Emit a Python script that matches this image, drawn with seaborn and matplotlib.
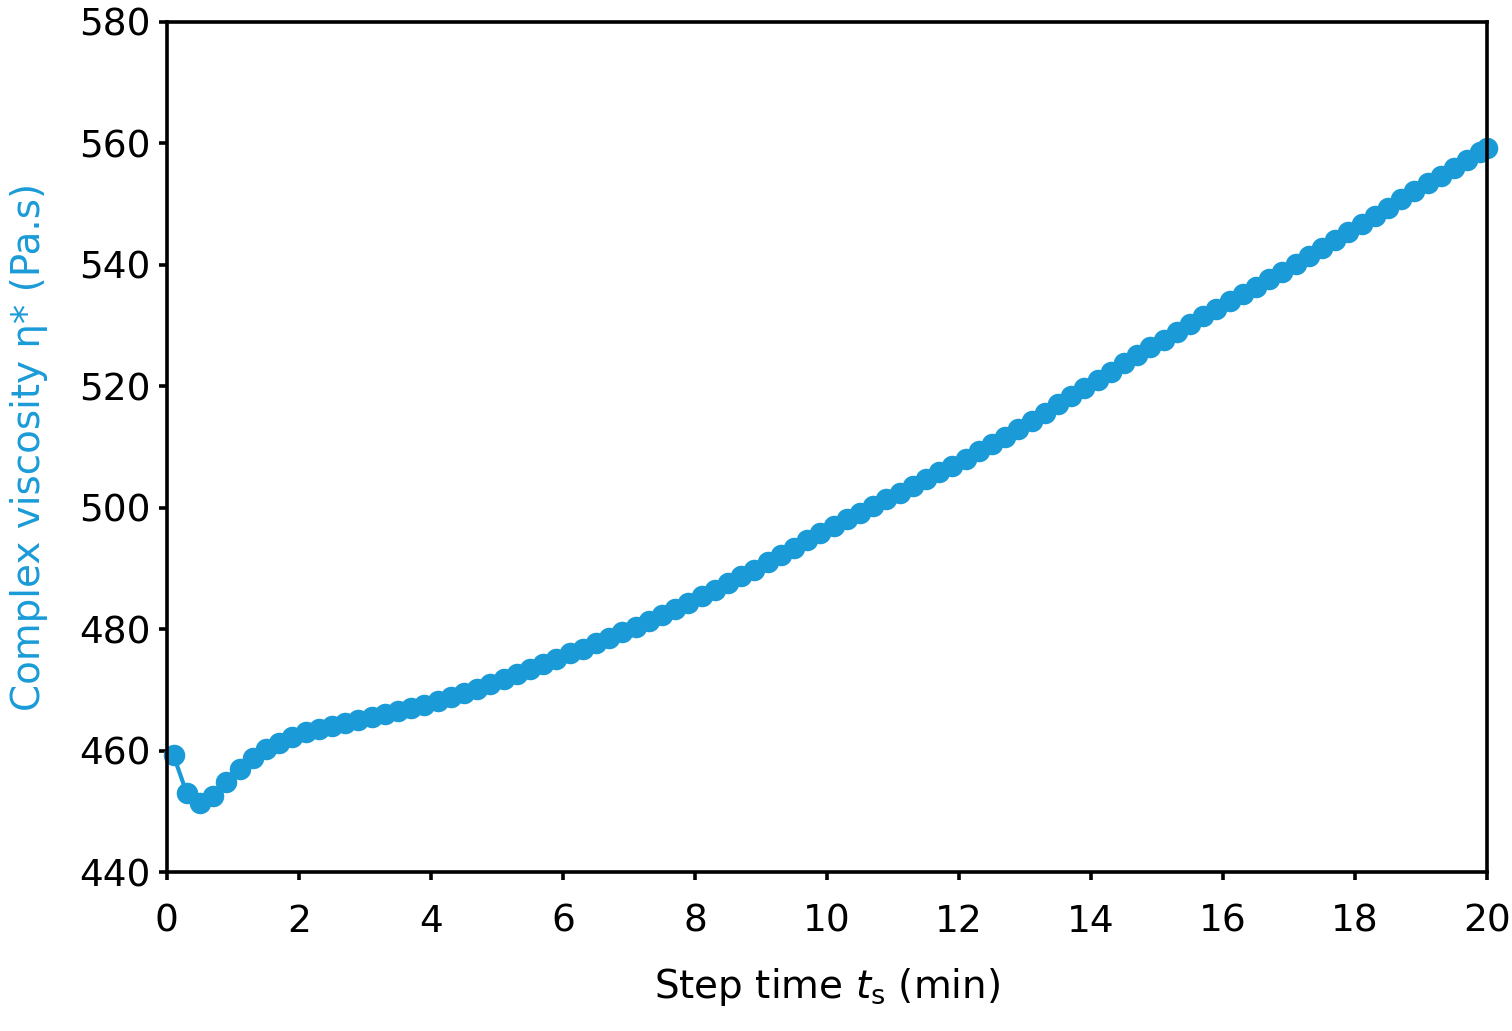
import numpy as np
import pandas as pd
import seaborn as sns
from matplotlib import pyplot as plt

# step time (min) and complex viscosity (Pa.s)
time_min = [0.1, 0.3, 0.5, 0.7, 0.9, 1.1, 1.3, 1.5, 1.7, 1.9,
            2.1, 2.3, 2.5, 2.7, 2.9, 3.1, 3.3, 3.5, 3.7, 3.9,
            4.1, 4.3, 4.5, 4.7, 4.9, 5.1, 5.3, 5.5, 5.7, 5.9,
            6.1, 6.3, 6.5, 6.7, 6.9, 7.1, 7.3, 7.5, 7.7, 7.9,
            8.1, 8.3, 8.5, 8.7, 8.9, 9.1, 9.3, 9.5, 9.7, 9.9,
            10.1, 10.3, 10.5, 10.7, 10.9, 11.1, 11.3, 11.5, 11.7, 11.9,
            12.1, 12.3, 12.5, 12.7, 12.9, 13.1, 13.3, 13.5, 13.7, 13.9,
            14.1, 14.3, 14.5, 14.7, 14.9, 15.1, 15.3, 15.5, 15.7, 15.9,
            16.1, 16.3, 16.5, 16.7, 16.9, 17.1, 17.3, 17.5, 17.7, 17.9,
            18.1, 18.3, 18.5, 18.7, 18.9, 19.1, 19.3, 19.5, 19.7, 19.9, 20.0]
viscosity = [459.2, 453.0, 451.4, 452.6, 454.8, 457.0, 458.8, 460.2, 461.3, 462.3,
             463.0, 463.6, 464.1, 464.6, 465.1, 465.6, 466.0, 466.5, 467.0, 467.5,
             468.1, 468.8, 469.5, 470.2, 471.0, 471.8, 472.6, 473.4, 474.2, 475.1,
             476.0, 476.8, 477.7, 478.6, 479.5, 480.4, 481.3, 482.3, 483.3, 484.3,
             485.4, 486.5, 487.6, 488.7, 489.8, 491.0, 492.2, 493.4, 494.6, 495.8,
             497.0, 498.1, 499.2, 500.3, 501.4, 502.5, 503.6, 504.7, 505.8, 506.9,
             508.1, 509.3, 510.5, 511.7, 512.9, 514.3, 515.6, 517.0, 518.4, 519.7,
             521.1, 522.4, 523.8, 525.1, 526.4, 527.7, 529.0, 530.3, 531.5, 532.8,
             534.0, 535.2, 536.4, 537.7, 538.9, 540.2, 541.5, 542.8, 544.1, 545.4,
             546.8, 548.1, 549.4, 550.8, 552.1, 553.4, 554.7, 556.0, 557.3, 558.6, 559.2]

x_ticks = [0, 2, 4, 6, 8, 10, 12, 14, 16, 18, 20]
y_ticks = [440, 460, 480, 500, 520, 540, 560, 580]

blue = '#1a9bd7'

sns.set_style('white')
plt.rcParams['font.family'] = ['DejaVu Sans']
plt.rcParams['mathtext.fontset'] = 'dejavusans'

df = pd.DataFrame({'t': time_min, 'eta': viscosity})

fig = plt.figure(figsize=(15.12, 10.31), dpi=100)
ax = fig.add_axes([0.1104, 0.1542, 0.8731, 0.8245])

sns.lineplot(data=df, x='t', y='eta', ax=ax, color=blue, marker='o',
             markersize=15.5, markeredgewidth=0, linewidth=3, clip_on=False)

ax.set_xlim(0, 20)
ax.set_ylim(440, 580)
ax.set_xticks(x_ticks)
ax.set_yticks(y_ticks)

for s in ax.spines.values():
    s.set_linewidth(2.6)
    s.set_color('black')
ax.tick_params(axis='both', which='major', direction='out', length=6, width=2.6,
               labelsize=27, color='black', labelcolor='black',
               bottom=True, left=True, top=False, right=False)
ax.tick_params(axis='x', pad=17)
ax.tick_params(axis='y', pad=6)

ax.set_xlabel(r'Step time $\it{t}_\mathregular{s}$ (min)', fontsize=28,
              color='black', labelpad=19)
ax.set_ylabel('Complex viscosity η* (Pa.s)', fontsize=28, color=blue, labelpad=22)

fig.savefig('out.png', dpi=100)
